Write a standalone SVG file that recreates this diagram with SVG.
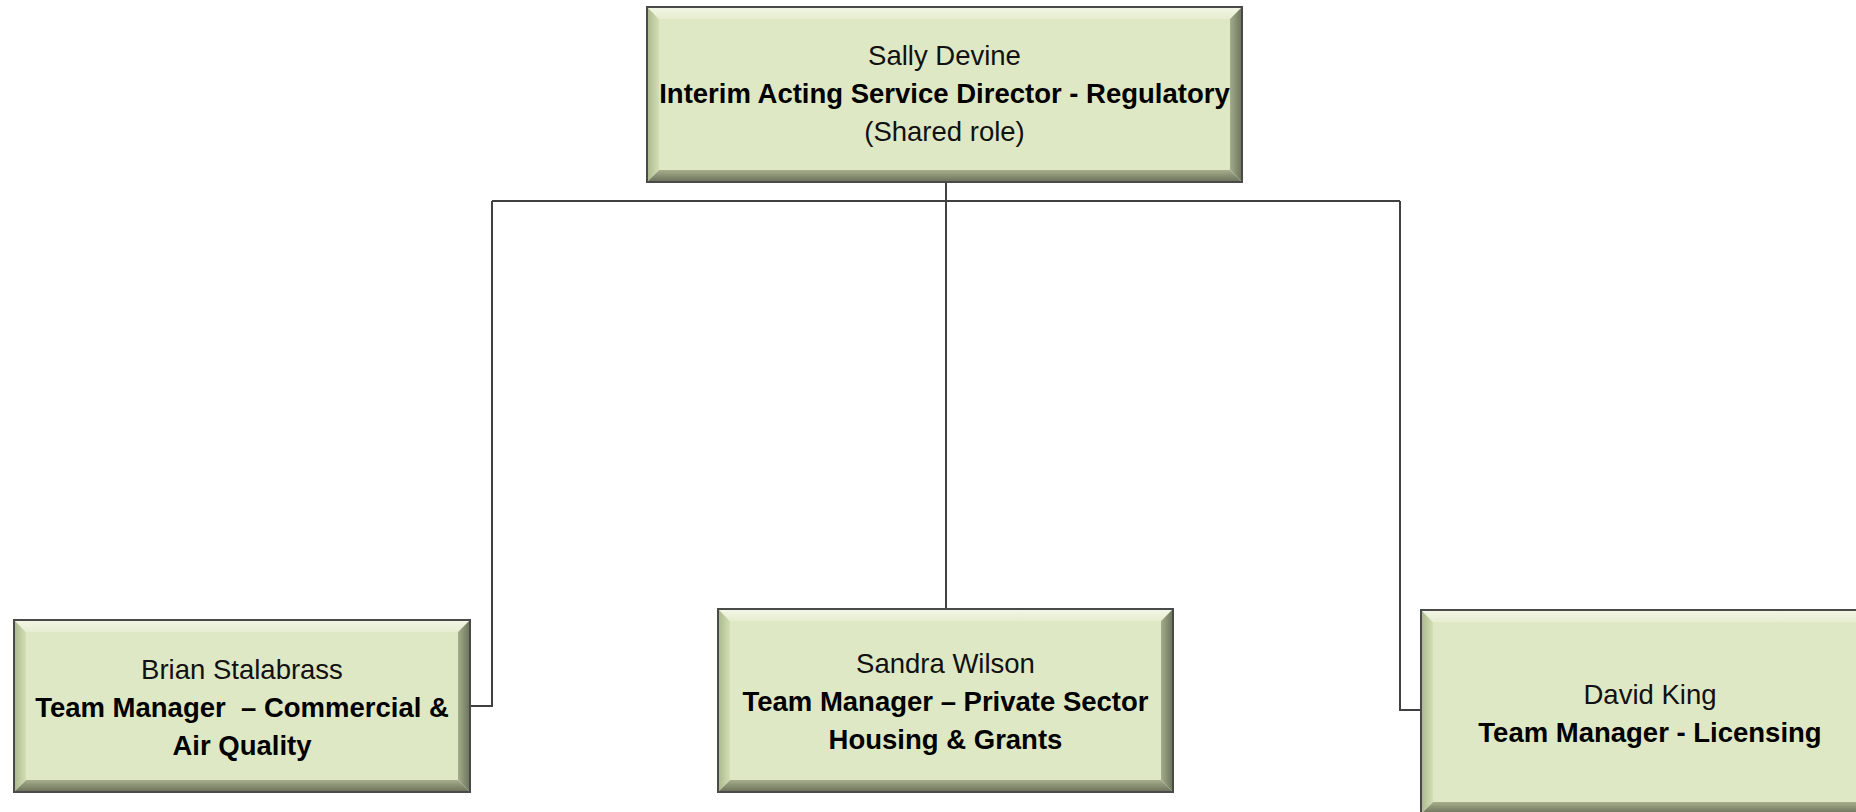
<svg xmlns="http://www.w3.org/2000/svg" width="1856" height="812" viewBox="0 0 1856 812">
<defs>
<linearGradient id="gTop" x1="0" y1="0" x2="0" y2="1"><stop offset="0" stop-color="#f3f6e6"/><stop offset="1" stop-color="#e6edd0"/></linearGradient>
<linearGradient id="gLeft" x1="0" y1="0" x2="1" y2="0"><stop offset="0" stop-color="#aab78c"/><stop offset="1" stop-color="#d3dfb3"/></linearGradient>
<linearGradient id="gRight" x1="0" y1="0" x2="1" y2="0"><stop offset="0" stop-color="#a3ad8a"/><stop offset="1" stop-color="#6b725b"/></linearGradient>
<linearGradient id="gBottom" x1="0" y1="0" x2="0" y2="1"><stop offset="0" stop-color="#a5ae8c"/><stop offset="1" stop-color="#6a7058"/></linearGradient>
</defs>
<style>
.face{fill:#dfe8c4}
.bt{fill:url(#gTop)}
.bl{fill:url(#gLeft)}
.br{fill:url(#gRight)}
.bb{fill:url(#gBottom)}
.frame{fill:none;stroke:#4a4a4a;stroke-width:2}
.conn{fill:none;stroke:#404040;stroke-width:2}
text{font-family:"Liberation Sans",Arial,sans-serif;font-size:27.5px;fill:#111;text-anchor:middle}
.b{font-weight:bold;fill:#000}
</style>
<rect width="1856" height="812" fill="#ffffff"/>
<g id="connectors">
<path class="conn" d="M946,182 V609"/>
<path class="conn" d="M492,201 H1400"/>
<path class="conn" d="M492,201 V706 H470"/>
<path class="conn" d="M1400,201 V710 H1421"/>
</g>
<g id="node-director">
<rect class="face" x="659" y="19" width="571" height="151"/>
<polygon class="bt" points="647,7 1242,7 1230,19 659,19"/>
<polygon class="bl" points="647,7 659,19 659,170 647,182"/>
<polygon class="br" points="1230,19 1242,7 1242,182 1230,170"/>
<polygon class="bb" points="659,170 1230,170 1242,182 647,182"/>
<rect class="frame" x="647" y="7" width="595" height="175"/>
<text x="944.5" y="65">Sally Devine</text>
<text class="b" x="944.5" y="103">Interim Acting Service Director - Regulatory</text>
<text x="944.5" y="141">(Shared role)</text>
</g>
<g id="node-brian">
<rect class="face" x="26" y="632" width="432" height="148"/>
<polygon class="bt" points="14,620 470,620 458,632 26,632"/>
<polygon class="bl" points="14,620 26,632 26,780 14,792"/>
<polygon class="br" points="458,632 470,620 470,792 458,780"/>
<polygon class="bb" points="26,780 458,780 470,792 14,792"/>
<rect class="frame" x="14" y="620" width="456" height="172"/>
<text x="242" y="679">Brian Stalabrass</text>
<text class="b" x="242" y="717">Team Manager &#160;– Commercial &amp;</text>
<text class="b" x="242" y="755">Air Quality</text>
</g>
<g id="node-sandra">
<rect class="face" x="730" y="621" width="431" height="159"/>
<polygon class="bt" points="718,609 1173,609 1161,621 730,621"/>
<polygon class="bl" points="718,609 730,621 730,780 718,792"/>
<polygon class="br" points="1161,621 1173,609 1173,792 1161,780"/>
<polygon class="bb" points="730,780 1161,780 1173,792 718,792"/>
<rect class="frame" x="718" y="609" width="455" height="183"/>
<text x="945.5" y="673">Sandra Wilson</text>
<text class="b" x="945.5" y="711">Team Manager – Private Sector</text>
<text class="b" x="945.5" y="749">Housing &amp; Grants</text>
</g>
<g id="node-david">
<rect class="face" x="1433" y="622" width="434" height="180"/>
<polygon class="bt" points="1421,610 1879,610 1867,622 1433,622"/>
<polygon class="bl" points="1421,610 1433,622 1433,802 1421,814"/>
<polygon class="br" points="1867,622 1879,610 1879,814 1867,802"/>
<polygon class="bb" points="1433,802 1867,802 1879,814 1421,814"/>
<rect class="frame" x="1421" y="610" width="458" height="204"/>
<text x="1650" y="704">David King</text>
<text class="b" x="1650" y="742">Team Manager - Licensing</text>
</g>
</svg>
